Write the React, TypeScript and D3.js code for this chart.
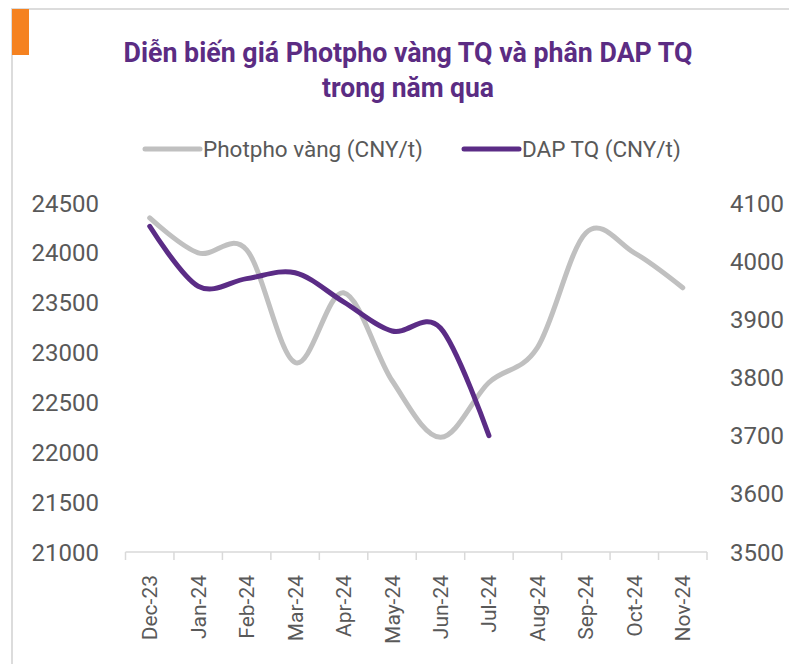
import { useRef, useEffect } from 'react';
import * as d3 from 'd3';

// months on the category axis
const months = ['Dec-23', 'Jan-24', 'Feb-24', 'Mar-24', 'Apr-24', 'May-24', 'Jun-24', 'Jul-24', 'Aug-24', 'Sep-24', 'Oct-24', 'Nov-24'];

// Photpho vàng (CNY/t), left axis
const phosphorus = [24350, 24000, 24030, 22900, 23600, 22720, 22150, 22700, 23050, 24200, 24000, 23650];

// DAP TQ (CNY/t), right axis — no data after Jul-24
const dap = [4060, 3957, 3970, 3980, 3930, 3880, 3885, 3700];

const leftTicks = [21000, 21500, 22000, 22500, 23000, 23500, 24000, 24500];
const rightTicks = [3500, 3600, 3700, 3800, 3900, 4000, 4100];

const titleLines = ['Diễn biến giá Photpho vàng TQ và phân DAP TQ', 'trong năm qua'];
const titleWidths = [569, 172];
const legendNames = ['Photpho vàng (CNY/t)', 'DAP TQ (CNY/t)'];

const width = 789;
const height = 664;

export default function App() {
  const svgRef = useRef<SVGSVGElement>(null);

  useEffect(() => {
    if (!svgRef.current) return;
    const svg = d3.select(svgRef.current);
    svg.selectAll('*').remove();

    const font = 'Roboto, "Open Sans", sans-serif';
    const textColor = '#595959';
    const grayLine = '#c0c0c0';
    const purple = '#5b2c86';

    const plot = { left: 125.5, right: 707, top: 203, bottom: 552 };

    // frame
    svg.append('line').attr('x1', 11).attr('x2', width).attr('y1', 9).attr('y2', 9)
      .attr('stroke', '#dcdcdc').attr('stroke-width', 2);
    svg.append('line').attr('x1', 12).attr('x2', 12).attr('y1', 8).attr('y2', height)
      .attr('stroke', '#dcdcdc').attr('stroke-width', 2);
    svg.append('rect').attr('x', 12).attr('y', 9).attr('width', 17).attr('height', 46)
      .attr('fill', '#f58220');

    // title (condensed face is not installed, so squeeze to the original width)
    svg.append('g').selectAll('text').data(titleLines).join('text')
      .attr('x', 408)
      .attr('y', (_, i) => 62 + i * 35)
      .attr('text-anchor', 'middle')
      .attr('textLength', (_, i) => titleWidths[i])
      .attr('lengthAdjust', 'spacingAndGlyphs')
      .attr('font-family', 'Roboto, "Open Sans", sans-serif')
      .attr('font-weight', 'bold')
      .attr('font-size', 27)
      .attr('fill', '#5b2c83')
      .text(d => d);

    // scales
    const x = d3.scaleBand().domain(months).range([plot.left, plot.right]);
    const yLeft = d3.scaleLinear().domain([21000, 24500]).range([plot.bottom, plot.top]);
    const yRight = d3.scaleLinear().domain([3500, 4100]).range([plot.bottom, plot.top]);
    const cx = (m: string) => (x(m) ?? 0) + x.bandwidth() / 2;

    // category axis
    const xAxis = svg.append('g');
    xAxis.append('line')
      .attr('x1', plot.left).attr('x2', plot.right)
      .attr('y1', plot.bottom).attr('y2', plot.bottom)
      .attr('stroke', '#d9d9d9').attr('stroke-width', 1.5);
    xAxis.selectAll('line.tick').data(d3.range(months.length + 1)).join('line')
      .attr('class', 'tick')
      .attr('x1', i => plot.left + i * x.step()).attr('x2', i => plot.left + i * x.step())
      .attr('y1', plot.bottom).attr('y2', plot.bottom + 8)
      .attr('stroke', '#d9d9d9').attr('stroke-width', 1.5);
    xAxis.selectAll('text').data(months).join('text')
      .attr('transform', d => `translate(${cx(d) + 7.5},${plot.bottom + 23}) rotate(-90)`)
      .attr('text-anchor', 'end')
      .attr('font-family', font)
      .attr('font-size', 21)
      .attr('fill', textColor)
      .text(d => d);

    // value axes
    svg.append('g').selectAll('text').data(leftTicks).join('text')
      .attr('x', 99).attr('y', d => yLeft(d))
      .attr('dy', '0.36em')
      .attr('text-anchor', 'end')
      .attr('font-family', font).attr('font-size', 24)
      .attr('fill', textColor)
      .text(d => d);
    svg.append('g').selectAll('text').data(rightTicks).join('text')
      .attr('x', 730).attr('y', d => yRight(d))
      .attr('dy', '0.36em')
      .attr('font-family', font).attr('font-size', 24)
      .attr('fill', textColor)
      .text(d => d);

    // series
    const curve = d3.curveCatmullRom.alpha(0);
    const lineLeft = d3.line<number>().x((_, i) => cx(months[i])).y(d => yLeft(d)).curve(curve);
    const lineRight = d3.line<number>().x((_, i) => cx(months[i])).y(d => yRight(d)).curve(curve);

    svg.append('path').attr('d', lineLeft(phosphorus))
      .attr('fill', 'none').attr('stroke', grayLine).attr('stroke-width', 5)
      .attr('stroke-linecap', 'round');
    svg.append('path').attr('d', lineRight(dap))
      .attr('fill', 'none').attr('stroke', purple).attr('stroke-width', 5)
      .attr('stroke-linecap', 'round');

    // legend
    const legend = [
      { name: legendNames[0], color: grayLine, x: 145 },
      { name: legendNames[1], color: purple, x: 464 }
    ];
    const lg = svg.append('g').selectAll('g').data(legend).join('g')
      .attr('transform', d => `translate(${d.x},149)`);
    lg.append('line').attr('x1', 0).attr('x2', 55).attr('y1', 0).attr('y2', 0)
      .attr('stroke', d => d.color).attr('stroke-width', 5).attr('stroke-linecap', 'round');
    lg.append('text').attr('x', 58).attr('dy', '0.36em')
      .attr('font-family', font).attr('font-size', 22.5)
      .attr('fill', textColor)
      .text(d => d.name);
  }, []);

  return (
    <svg ref={svgRef} width={width} height={height}
      style={{ position: 'absolute', left: 0, top: 0, background: '#fff' }} />
  );
}
